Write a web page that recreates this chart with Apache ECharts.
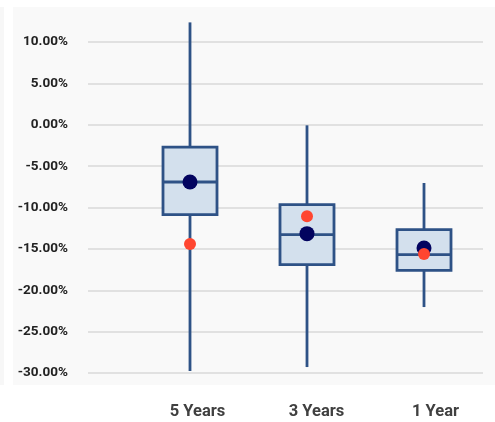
<!DOCTYPE html>
<html><head><meta charset="utf-8">
<script src="https://cdn.jsdelivr.net/npm/echarts@6/dist/echarts.min.js"></script>
<style>html,body{margin:0;padding:0;background:#fff}#c{width:495px;height:422px}</style>
</head><body><div id="c"></div>
<script>
const categories = ['5 Years', '3 Years', '1 Year'];
const whiskerMin = [-29.76, -29.28, -22.03];
const q1 = [-10.87, -16.9, -17.6];
const median = [-6.92, -13.28, -15.7];
const q3 = [-2.70, -9.66, -12.68];
const whiskerMax = [12.37, -0.07, -7.04];
const navyPoint = [-6.92, -13.16, -14.9];
const redPoint = [-14.41, -11.07, -15.62];
const yTicks = { min: -30, max: 10, interval: 5 };

const boxData = categories.map((c, i) => [i, whiskerMin[i], q1[i], median[i], q3[i], whiskerMax[i]]);
const LINE = '#2e5286';
const font = 'Roboto, "Liberation Sans", sans-serif';

const chart = echarts.init(document.getElementById('c'), null, { renderer: 'canvas' });
chart.setOption({
  animation: false,
  backgroundColor: '#ffffff',
  graphic: [
    { type: 'rect', z: -10, shape: { x: 0, y: 7, width: 4, height: 378 }, style: { fill: '#f7f7f7' } },
    { type: 'rect', z: -10, shape: { x: 13, y: 7, width: 482, height: 378 }, style: { fill: '#f9f9f9' } }
  ],
  grid: [
    { left: 88, right: 12, top: 42, bottom: 49 },
    { left: 131.5, right: 12.5, top: 42, bottom: 49 },
    { left: 138, width: 365, top: 42, bottom: 49 }
  ],
  xAxis: [
    { gridIndex: 0, type: 'category', data: categories, show: false },
    { gridIndex: 1, type: 'category', data: categories, show: false },
    { gridIndex: 2, type: 'category', data: categories, axisLine: { show: false }, axisTick: { show: false },
      axisLabel: { margin: 30, fontFamily: font, fontWeight: 'bold', fontSize: 16.5, color: '#404040' } }
  ],
  yAxis: [
    { gridIndex: 0, type: 'value', min: yTicks.min, max: yTicks.max, interval: yTicks.interval,
      axisLine: { show: false }, axisTick: { show: false },
      splitLine: { lineStyle: { color: '#d9d9d9', width: 1.5 } },
      axisLabel: { margin: 20, fontFamily: font, fontWeight: 'bold', fontSize: 13.5, color: '#222',
        formatter: v => v.toFixed(2) + '%' } },
    { gridIndex: 1, type: 'value', min: yTicks.min, max: yTicks.max, interval: yTicks.interval, show: false, splitLine: { show: false } },
    { gridIndex: 2, type: 'value', min: yTicks.min, max: yTicks.max, show: false, splitLine: { show: false } }
  ],
  series: [
    {
      type: 'custom', xAxisIndex: 1, yAxisIndex: 1, clip: false,
      data: boxData,
      renderItem: function (params, api) {
        const x = api.value(0);
        const pMin = api.coord([x, api.value(1)]);
        const pQ1 = api.coord([x, api.value(2)]);
        const pMed = api.coord([x, api.value(3)]);
        const pQ3 = api.coord([x, api.value(4)]);
        const pMax = api.coord([x, api.value(5)]);
        const half = 27;
        const st = { stroke: LINE, lineWidth: 2.8 };
        return { type: 'group', children: [
          { type: 'line', shape: { x1: pMax[0], y1: pMax[1], x2: pQ3[0], y2: pQ3[1] }, style: st },
          { type: 'line', shape: { x1: pQ1[0], y1: pQ1[1], x2: pMin[0], y2: pMin[1] }, style: st },
          { type: 'rect', shape: { x: pQ3[0] - half, y: pQ3[1], width: half * 2, height: pQ1[1] - pQ3[1] },
            style: { fill: '#d3e0ed', stroke: LINE, lineWidth: 2.8 } },
          { type: 'line', shape: { x1: pMed[0] - half, y1: pMed[1], x2: pMed[0] + half, y2: pMed[1] }, style: st }
        ] };
      }
    },
    { type: 'scatter', xAxisIndex: 1, yAxisIndex: 1, data: navyPoint, symbolSize: 15, itemStyle: { color: '#02035f', opacity: 1 }, z: 5 },
    { type: 'scatter', xAxisIndex: 1, yAxisIndex: 1, data: redPoint, symbolSize: 12, itemStyle: { color: '#ff4630', opacity: 1 }, z: 6 }
  ]
});
</script></body></html>
